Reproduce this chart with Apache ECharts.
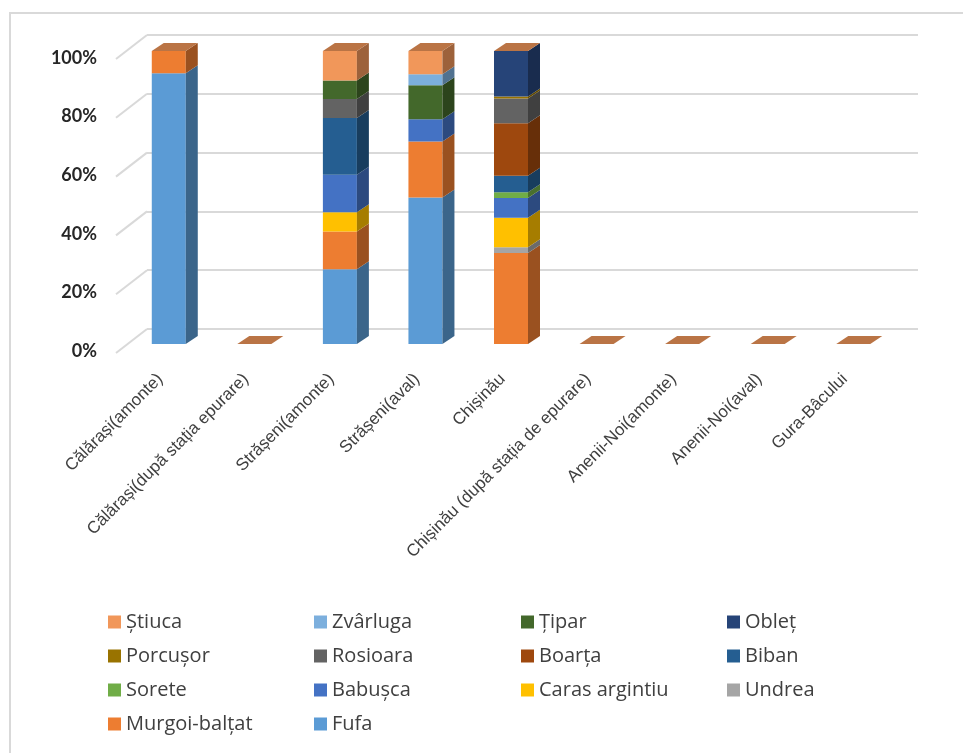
<!DOCTYPE html>
<html>
<head>
<meta charset="utf-8">
<script src="https://cdn.jsdelivr.net/npm/echarts@6/dist/echarts.min.js"></script>
<style>
  html, body { margin: 0; padding: 0; background: #fff; }
  #main { width: 963px; height: 753px; }
</style>
</head>
<body>
<div id="main"></div>
<script>
// sampling sites (x axis)
var categories = [
  "Călărași(amonte)", "Călărași(după stația epurare)", "Strășeni(amonte)",
  "Strășeni(aval)", "Chișinău", "Chișinău (după stația de epurare)",
  "Anenii-Noi(amonte)", "Anenii-Noi(aval)", "Gura-Bâcului"
];
var yTicks = [0, 20, 40, 60, 80, 100];

// share of each species per site, %  (bottom of the stack first)
var fufa     = [92.4, 0, 25.5, 50.0, 0, 0, 0, 0, 0];
var murgoi   = [7.6, 0, 12.9, 19.1, 31.1, 0, 0, 0, 0];
var undrea   = [0, 0, 0, 0, 1.9, 0, 0, 0, 0];
var caras    = [0, 0, 6.6, 0, 10.1, 0, 0, 0, 0];
var babusca  = [0, 0, 12.8, 7.6, 6.7, 0, 0, 0, 0];
var sorete   = [0, 0, 0, 0, 2.0, 0, 0, 0, 0];
var biban    = [0, 0, 19.3, 0, 5.6, 0, 0, 0, 0];
var boarta   = [0, 0, 0, 0, 17.9, 0, 0, 0, 0];
var rosioara = [0, 0, 6.5, 0, 8.5, 0, 0, 0, 0];
var porcusor = [0, 0, 0, 0, 0.7, 0, 0, 0, 0];
var oblet    = [0, 0, 0, 0, 15.5, 0, 0, 0, 0];
var tipar    = [0, 0, 6.3, 11.6, 0, 0, 0, 0, 0];
var zvarluga = [0, 0, 0, 3.8, 0, 0, 0, 0, 0];
var stiuca   = [0, 0, 10.1, 7.9, 0, 0, 0, 0, 0];

var seriesNames = ["Fufa", "Murgoi-balțat", "Undrea", "Caras argintiu", "Babușca", "Sorete",
  "Biban", "Boarța", "Rosioara", "Porcușor", "Obleț", "Țipar", "Zvârluga", "Știuca"];
var seriesValues = [fufa, murgoi, undrea, caras, babusca, sorete,
  biban, boarta, rosioara, porcusor, oblet, tipar, zvarluga, stiuca];
var seriesColors = ["#5B9BD5", "#ED7D31", "#A5A5A5", "#FFC000", "#4472C4", "#70AD47",
  "#255E91", "#9E480E", "#636363", "#997300", "#264478", "#43682B", "#7CAFDD", "#F1975A"];

// legend columns, as laid out in the picture
var legendCols = [
  ["Știuca", "Porcușor", "Sorete", "Murgoi-balțat"],
  ["Zvârluga", "Rosioara", "Babușca", "Fufa"],
  ["Țipar", "Boarța", "Caras argintiu"],
  ["Obleț", "Biban", "Undrea"]
];
var legendLeft = [108, 314, 521, 727];

var barW = 34, depthX = 12, depthY = 8;

function shade(hex, f) {
  var n = parseInt(hex.slice(1), 16);
  var r = Math.round(((n >> 16) & 255) * f);
  var g = Math.round(((n >> 8) & 255) * f);
  var b = Math.round((n & 255) * f);
  return "rgb(" + r + "," + g + "," + b + ")";
}

var myChart = echarts.init(document.getElementById("main"));

// stack the segments by hand so the custom bars can draw their 3D faces
var base = categories.map(function () { return 0; });
var series = seriesNames.map(function (name, s) {
  var color = seriesColors[s];
  var isTop = s === seriesNames.length - 1;
  var data = seriesValues[s].map(function (v, i) {
    var lo = base[i];
    base[i] += v;
    return [i, lo, base[i]];
  });
  return {
    name: name,
    type: "custom",
    xAxisIndex: 0,
    yAxisIndex: 0,
    itemStyle: { color: color },
    encode: { x: 0, y: [1, 2] },
    data: data,
    z: 3,
    renderItem: function (params, api) {
      var lo = api.coord([api.value(0), api.value(1)]);
      var hi = api.coord([api.value(0), api.value(2)]);
      var x = lo[0] - barW / 2, xr = x + barW;
      var children = [];
      if (hi[1] < lo[1] - 0.01) {
        children.push({
          type: "rect",
          shape: { x: x, y: hi[1], width: barW, height: lo[1] - hi[1] },
          style: { fill: color }
        });
        children.push({
          type: "polygon",
          shape: { points: [[xr, hi[1]], [xr + depthX, hi[1] - depthY], [xr + depthX, lo[1] - depthY], [xr, lo[1]]] },
          style: { fill: shade(color, 0.65) }
        });
      }
      if (isTop) {
        children.push({
          type: "polygon",
          shape: { points: [[x, hi[1]], [x + depthX, hi[1] - depthY], [xr + depthX, hi[1] - depthY], [xr, hi[1]]] },
          style: { fill: shade(color, 0.77) }
        });
      }
      return { type: "group", children: children };
    }
  };
});

// slanted floor lines on the left side wall
series.push({
  type: "custom",
  xAxisIndex: 1,
  yAxisIndex: 1,
  silent: true,
  z: 1,
  data: yTicks.map(function (v) { return [0, v]; }),
  renderItem: function (params, api) {
    var p = api.coord([0, api.value(1)]);
    return {
      type: "line",
      shape: { x1: p[0] - 31, y1: p[1] + 24, x2: p[0], y2: p[1] },
      style: { stroke: "#d9d9d9", lineWidth: 2 }
    };
  }
});

var option = {
  animation: false,
  backgroundColor: "#fff",
  graphic: [{
    type: "rect",
    shape: { x: 10, y: 13, width: 980, height: 780 },
    style: { fill: "none", stroke: "#d9d9d9", lineWidth: 2 },
    silent: true
  }],
  legend: legendCols.map(function (col, k) {
    return {
      data: col,
      orient: "vertical",
      left: legendLeft[k],
      top: 612,
      icon: "rect",
      itemWidth: 13,
      itemHeight: 13,
      itemGap: 14,
      padding: 0,
      textStyle: { fontFamily: "Open Sans", fontSize: 20, color: "#404040", lineHeight: 20 }
    };
  }),
  grid: [
    // front plane of the bars
    { left: 126, top: 51, width: 770, height: 293 },
    // back wall with gridlines
    { left: 147, top: 35, width: 771, height: 294 }
  ],
  xAxis: [
    {
      type: "category",
      gridIndex: 0,
      data: categories,
      axisLine: { show: false },
      axisTick: { show: false },
      axisLabel: {
        interval: 0,
        rotate: 45,
        margin: 24,
        padding: [0, 12, 0, 0],
        fontFamily: "Liberation Sans",
        fontSize: 17,
        color: "#404040"
      }
    },
    { type: "value", gridIndex: 1, min: 0, max: 1, show: false }
  ],
  yAxis: [
    {
      type: "value",
      gridIndex: 0,
      min: 0,
      max: 100,
      interval: 20,
      axisLine: { show: false },
      axisTick: { show: false },
      splitLine: { show: false },
      axisLabel: {
        formatter: "{value}%",
        margin: 29,
        verticalAlign: "top",
        lineHeight: 14,
        fontFamily: "Lato",
        fontWeight: "bold",
        fontSize: 18,
        color: "#262626"
      }
    },
    {
      type: "value",
      gridIndex: 1,
      min: 0,
      max: 100,
      interval: 20,
      axisLine: { show: false },
      axisTick: { show: false },
      axisLabel: { show: false },
      splitLine: { lineStyle: { color: "#d9d9d9", width: 2 } }
    }
  ],
  series: series
};

myChart.setOption(option);
</script>
</body>
</html>
